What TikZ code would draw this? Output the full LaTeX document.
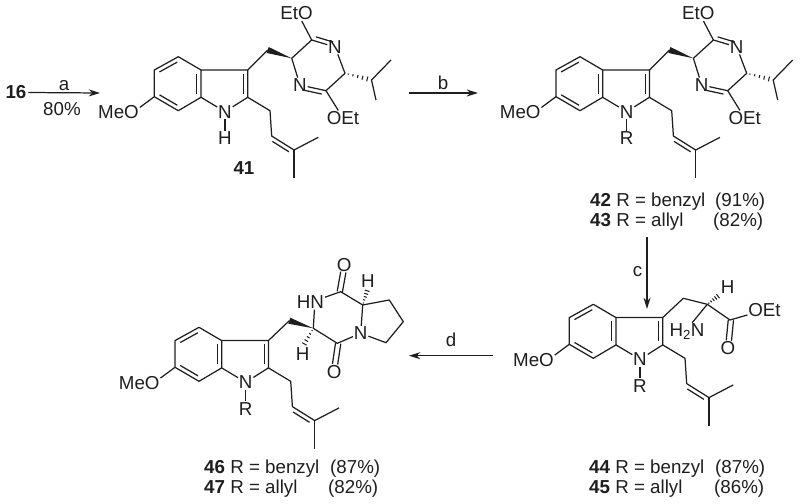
\documentclass[tikz,border=0pt]{standalone}
\usepackage{fontspec}
\setmainfont{Liberation Sans}
\usepackage{xcolor}
\usetikzlibrary{calc, arrows.meta}
\definecolor{inkblk}{RGB}{30,30,30}
\tikzset{
  atom/.style={inner sep=.6pt, text=inkblk, font=\fontsize{16}{18}\selectfont},
  cmpd/.style={inner sep=0pt, anchor=base west, text=inkblk, font=\fontsize{16}{18}\selectfont},
  bond/.style={draw=inkblk, line width=1.05pt, line join=round},
  rxn/.style={draw=inkblk, line width=1.05pt, -{Stealth[length=3.4mm,width=2.1mm]}},
}
% inner line of a double bond, #3 = side
\newcommand{\dbond}[3]{
  \draw[bond] ($(#1)!.13!(#2)!3.6pt!#3:(#2)$) -- ($(#2)!.13!(#1)!3.6pt!-#3:(#1)$);
}
\newcommand{\wedgebond}[2]{
  \fill[inkblk] ($(#1)!2.7pt!90:(#2)$) -- ($(#1)!2.7pt!-90:(#2)$) -- (#2) -- cycle;
}
\newcommand{\hashbond}[2]{
  \foreach \t/\w in {.12/.5,.3/.9,.48/1.3,.66/1.7,.84/2.1}{
    \draw[inkblk, line width=.9pt] ($(#1)!\t!(#2)!\w pt!90:(#2)$) -- ($(#1)!\t!(#2)!\w pt!-90:(#2)$);
  }
}
% indole with prenyl, drawn at the place of 41
\newcommand{\indolyl}[1]{
  \coordinate (c4) at (178.3,56.7);
  \coordinate (c5) at (154.3,70);
  \coordinate (c6) at (154.3,96.7);
  \coordinate (c7) at (178.3,110.7);
  \coordinate (c7a) at (201,97.3);
  \coordinate (c3a) at (201,70);
  \coordinate (c3) at (247.7,70);
  \coordinate (c2) at (247.7,97.3);
  \coordinate (p1) at (270,110.7);
  \coordinate (p2) at (271.7,136);
  \coordinate (p3) at (294,150);
  \coordinate (p4) at (318.3,137.3);
  \coordinate (p5) at (294,178);
  \node[atom] (meo) at (118.5,112) {MeO};
  \node[atom] (n1) at (225,111.7) {N};
  \node[atom] (nr) at (225,138) {#1};
  \draw[bond] (meo.12) -- (c6) -- (c5) -- (c4) -- (c3a) -- (c7a) -- (c7) -- (c6);
  \draw[bond] (c3a) -- (c3) -- (c2) -- (n1) -- (c7a);
  \draw[bond] (n1) -- (nr);
  \draw[bond] (c2) -- (p1) -- (p2) -- (p3) -- (p4);
  \draw[bond] (p3) -- (p5);
  \dbond{c5}{c4}{-90}
  \dbond{c6}{c7}{90}
  \dbond{c3a}{c7a}{-90}
  \dbond{c3}{c2}{-90}
  \dbond{p2}{p3}{-90}
}
\newcommand{\bislactim}{
  \coordinate (ch2) at (267.7,50);
  \coordinate (r3) at (291.7,58.3);
  \coordinate (r2) at (311.7,40);
  \coordinate (r6) at (345,73.3);
  \coordinate (r5) at (326,90.7);
  \coordinate (ip) at (371.5,80);
  \coordinate (ip1) at (391,60);
  \coordinate (ip2) at (376,100);
  \node[atom] (n1r) at (335,47) {N};
  \node[atom] (n4r) at (300,85) {N};
  \node[atom] (eto) at (296.5,13.5) {EtO};
  \node[atom] (oet) at (343,118) {OEt};
  \draw[bond] (c3) -- (ch2);
  \wedgebond{ch2}{r3}
  \draw[bond] (r3) -- (r2) -- (n1r) -- (r6) -- (r5) -- (n4r) -- (r3);
  \draw[bond] (r2) -- (eto.-55);
  \draw[bond] (r5) -- (oet.122);
  \dbond{r2}{n1r}{90}
  \dbond{n4r}{r5}{-90}
  \hashbond{r6}{ip}
  \draw[bond] (ip1) -- (ip) -- (ip2);
}
\begin{document}
\begin{tikzpicture}[x=.03cm, y=-.03cm]
  \useasboundingbox (0,0) rectangle (800,504);
  % 16 to 41
  \node[atom, font=\fontsize{16}{18}\selectfont\bfseries] (n16) at (16,92.5) {16};
  \coordinate (a1) at (100,93);
  \draw[rxn] (n16.east) ++(1,0) -- (a1);
  \node[atom] (la) at (64,86) {a};
  \node[atom] (lpct) at (62,109) {80\%};
  \begin{scope}[name prefix=m41-]
    \indolyl{H}
    \bislactim
  \end{scope}
  \node[atom, font=\fontsize{16}{18}\selectfont\bfseries] (n41) at (244,168) {41};
  % 41 to 42
  \coordinate (b0) at (409,93);
  \coordinate (b1) at (478,93);
  \draw[rxn] (b0) -- (b1);
  \node[atom] (lb) at (443,83) {b};
  \begin{scope}[shift={(401.7,0)}, name prefix=m42-]
    \indolyl{R}
    \bislactim
  \end{scope}
  \node[cmpd] (n42) at (590,206) {\textbf{42} R = benzyl};
  \node[cmpd] (y42) at (715,206) {(91\%)};
  \node[cmpd] (n43) at (590,226) {\textbf{43} R = allyl};
  \node[cmpd] (y43) at (713,226) {(82\%)};
  % 42 to 44
  \coordinate (c0) at (647,237);
  \coordinate (c1) at (647,309);
  \draw[rxn] (c0) -- (c1);
  \node[atom] (lc) at (637.5,272) {c};
  \begin{scope}[shift={(415,247.6)}, name prefix=m44-]
    \indolyl{R}
    \coordinate (ch2) at (268.3,50.7);
    \coordinate (ca) at (292.3,56.7);
    \coordinate (co) at (315,72.4);
    \node[atom] (nh2) at (272,84.1) {H\textsubscript{2}N};
    \node[atom] (oet) at (349.5,62.4) {OEt};
    \node[atom] (oc) at (313,100.4) {O};
    \node[atom] (ha) at (312.7,39.7) {H};
    \draw[bond] (c3) -- (ch2) -- (ca) -- (co) -- (oet);
    \draw[bond] (ca) -- (nh2.60);
    \draw[bond] ($(co)!3pt!90:(oc)$) -- ($(oc.north)!3pt!-90:(co)$);
    \draw[bond] ($(co)!1.5pt!-90:(oc)$) -- ($(oc.north)!1.5pt!90:(co)$);
    \hashbond{ca}{ha.south west}
  \end{scope}
  \node[cmpd] (n44) at (589,473) {\textbf{44} R = benzyl};
  \node[cmpd] (y44) at (715,473) {(87\%)};
  \node[cmpd] (n45) at (589,493) {\textbf{45} R = allyl};
  \node[cmpd] (y45) at (714,493) {(86\%)};
  % 44 to 46
  \coordinate (d0) at (493,355.7);
  \coordinate (d1) at (409,355.7);
  \draw[rxn] (d0) -- (d1);
  \node[atom] (ld) at (451,340) {d};
  \begin{scope}[shift={(20.7,270.6)}, name prefix=m46-]
    \indolyl{R}
    \coordinate (ch2) at (268.6,50.1);
    \coordinate (ca) at (292.6,57.7);
    \coordinate (cx) at (320,21.1);
    \coordinate (cb) at (342,34.4);
    \coordinate (p3r) at (368.6,29.4);
    \coordinate (p4r) at (382.6,51.1);
    \coordinate (p5r) at (365.3,72.1);
    \coordinate (cy) at (316.6,72.7);
    \node[atom] (hn) at (289.8,31.7) {HN};
    \node[atom] (nr1) at (340,62.7) {N};
    \node[atom] (ox) at (323.5,-6) {O};
    \node[atom] (oy) at (313.5,101) {O};
    \node[atom] (hb) at (347.3,10.1) {H};
    \node[atom] (hc) at (282,83.7) {H};
    \draw[bond] (c3) -- (ch2);
    \wedgebond{ch2}{ca}
    \draw[bond] (ca) -- (hn.-62);
    \draw[bond] (hn) -- (cx) -- (cb) -- (nr1) -- (cy) -- (ca);
    \draw[bond] (cb) -- (p3r) -- (p4r) -- (p5r) -- (nr1);
    \draw[bond] ($(cx)!3pt!90:(ox)$) -- ($(ox.south)!3pt!-90:(cx)$);
    \draw[bond] ($(cx)!1.5pt!-90:(ox)$) -- ($(ox.south)!1.5pt!90:(cx)$);
    \draw[bond] ($(cy)!3pt!90:(oy)$) -- ($(oy.north)!3pt!-90:(cy)$);
    \draw[bond] ($(cy)!1.5pt!-90:(oy)$) -- ($(oy.north)!1.5pt!90:(cy)$);
    \hashbond{cb}{hb.south}
    \hashbond{ca}{hc.north}
  \end{scope}
  \node[cmpd] (n46) at (204,473) {\textbf{46} R = benzyl};
  \node[cmpd] (y46) at (330,473) {(87\%)};
  \node[cmpd] (n47) at (204,493) {\textbf{47} R = allyl};
  \node[cmpd] (y47) at (328,493) {(82\%)};
\end{tikzpicture}
\end{document}
